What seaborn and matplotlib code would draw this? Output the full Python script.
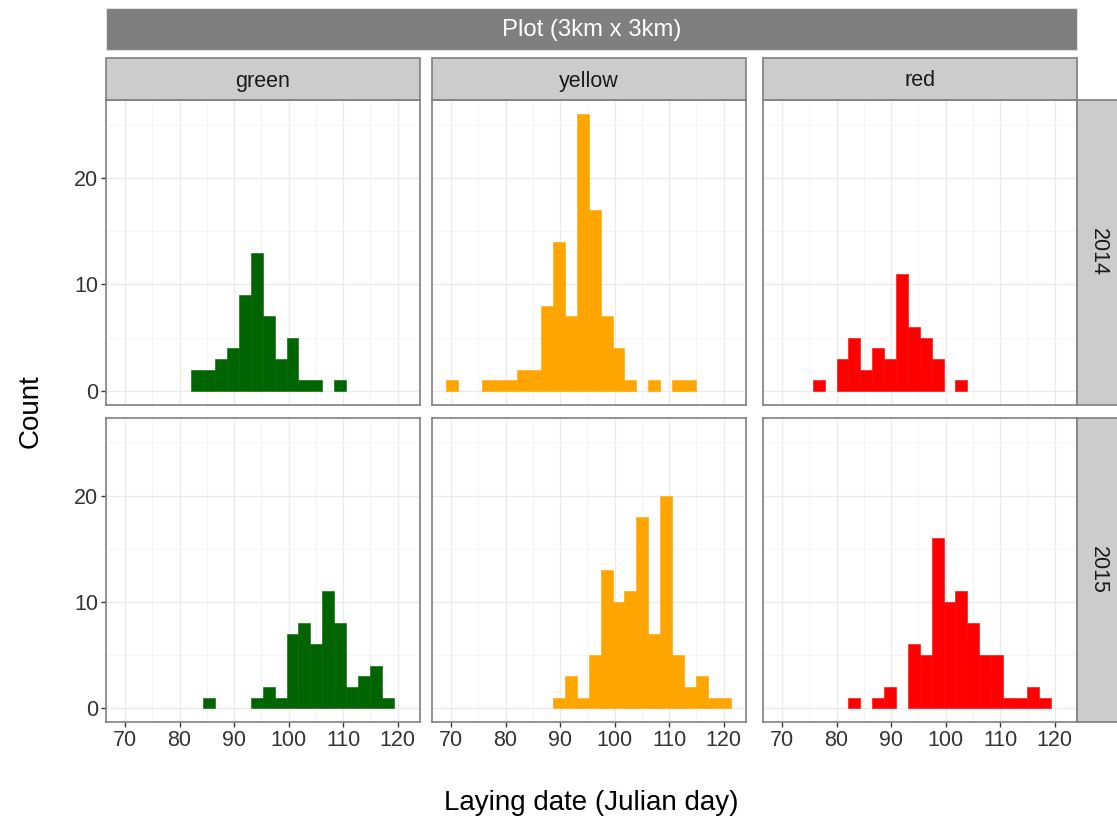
import numpy as np
import pandas as pd
import matplotlib
matplotlib.use("Agg")
import matplotlib.pyplot as plt
from matplotlib.patches import Rectangle
from matplotlib.ticker import MultipleLocator
import seaborn as sns

# histogram counts, one value per 2.18 day bin
bin_edges = np.linspace(69.1, 121.42, 25)
colours = ["green", "yellow", "red"]
years = ["2014", "2015"]

green_2014 = [0, 0, 0, 0, 0, 0, 2, 2, 3, 4, 9, 13, 7, 3, 5, 1, 1, 0, 1, 0, 0, 0, 0, 0]
yellow_2014 = [1, 0, 0, 1, 1, 1, 2, 2, 8, 14, 7, 26, 17, 7, 4, 1, 0, 1, 0, 1, 1, 0, 0, 0]
red_2014 = [0, 0, 0, 1, 0, 3, 5, 2, 4, 3, 11, 6, 5, 3, 0, 1, 0, 0, 0, 0, 0, 0, 0, 0]
green_2015 = [0, 0, 0, 0, 0, 0, 0, 1, 0, 0, 0, 1, 2, 1, 7, 8, 6, 11, 8, 2, 3, 4, 1, 0]
yellow_2015 = [0, 0, 0, 0, 0, 0, 0, 0, 0, 1, 3, 1, 5, 13, 10, 11, 18, 7, 20, 5, 2, 3, 1, 1]
red_2015 = [0, 0, 0, 0, 0, 0, 1, 0, 1, 2, 0, 6, 5, 16, 10, 11, 8, 5, 5, 1, 1, 2, 1, 0]

counts = {
    ("green", "2014"): green_2014, ("yellow", "2014"): yellow_2014, ("red", "2014"): red_2014,
    ("green", "2015"): green_2015, ("yellow", "2015"): yellow_2015, ("red", "2015"): red_2015,
}
fills = {"green": "#006400", "yellow": "#FFA500", "red": "#FF0000"}

centres = (bin_edges[:-1] + bin_edges[1:]) / 2
rows = []
for (col, yr), vals in counts.items():
    for d, n in zip(centres, vals):
        rows.append({"day": d, "count": n, "colour": col, "year": yr})
df = pd.DataFrame(rows)

sns.set_theme(style="white")
plt.rcParams["font.family"] = ["Liberation Sans", "DejaVu Sans"]

W, H = 1117, 823
fig = plt.figure(figsize=(W / 100, H / 100), dpi=100)


def box(x0, y0, x1, y1):
    # pixel box (top-left origin) -> figure fraction rect
    return [x0 / W, 1 - y1 / H, (x1 - x0) / W, (y1 - y0) / H]


col_x = [(106, 420), (432, 746), (763, 1077)]
row_y = [(100, 405), (418, 722)]

for i, yr in enumerate(years):
    for j, col in enumerate(colours):
        ax = fig.add_axes(box(col_x[j][0], row_y[i][0], col_x[j][1], row_y[i][1]))
        sub = df[(df["colour"] == col) & (df["year"] == yr)]
        sns.histplot(data=sub, x="day", weights="count", bins=bin_edges.tolist(), ax=ax,
                     color=fills[col], alpha=1, edgecolor=fills[col], linewidth=0.4)
        # empty bins should not leave an outline on the baseline
        for p in ax.patches:
            if p.get_height() == 0:
                p.set_visible(False)
        ax.set_xlim(66.5, 124.1)
        ax.set_ylim(-1.3, 27.3)
        ax.xaxis.set_major_locator(MultipleLocator(10))
        ax.xaxis.set_minor_locator(MultipleLocator(5))
        ax.yaxis.set_major_locator(MultipleLocator(10))
        ax.yaxis.set_minor_locator(MultipleLocator(5))
        ax.grid(True, which="major", color="#EBEBEB", linewidth=1.0)
        ax.grid(True, which="minor", color="#F3F3F3", linewidth=0.6)
        ax.set_axisbelow(True)
        ax.set_xlabel("")
        ax.set_ylabel("")
        for s in ax.spines.values():
            s.set_color("#7F7F7F")
            s.set_linewidth(1.2)
        ax.tick_params(which="major", length=3.5, width=1.0, color="#333333",
                       labelsize=15.5, labelcolor="#333333", pad=2)
        ax.tick_params(which="minor", length=0)
        ax.tick_params(axis="x", bottom=(i == 1), labelbottom=(i == 1))
        ax.tick_params(axis="y", left=(j == 0), labelleft=(j == 0))

# top nested strip
fig.patches.append(Rectangle((106 / W, 1 - 50 / H), (1077 - 106) / W, 42 / H,
                             transform=fig.transFigure, facecolor="#7F7F7F",
                             edgecolor="#E0E0E0", linewidth=0.8))
fig.text((106 + 1077) / 2 / W, 1 - 30 / H, "Plot (3km x 3km)", color="white",
         fontsize=17.2, ha="center", va="center")

# column strips
for j, col in enumerate(colours):
    x0, x1 = col_x[j]
    fig.patches.append(Rectangle((x0 / W, 1 - 100 / H), (x1 - x0) / W, 42 / H,
                                 transform=fig.transFigure, facecolor="#CCCCCC",
                                 edgecolor="#7F7F7F", linewidth=1.2))
    fig.text((x0 + x1) / 2 / W, 1 - 81 / H, col, color="#1A1A1A",
             fontsize=15.5, ha="center", va="center")

# row strips
for i, yr in enumerate(years):
    y0, y1 = row_y[i]
    fig.patches.append(Rectangle((1077 / W, 1 - y1 / H), 42 / W, (y1 - y0) / H,
                                 transform=fig.transFigure, facecolor="#CCCCCC",
                                 edgecolor="#7F7F7F", linewidth=1.2))
    fig.text(1098 / W, 1 - (y0 + y1) / 2 / H, yr, color="#1A1A1A",
             fontsize=15.5, ha="center", va="center", rotation=-90)

fig.text(31 / W, 1 - 411 / H, "Count", fontsize=20, rotation=90,
         ha="center", va="center", color="black")
fig.text(591 / W, 1 - 803 / H, "Laying date (Julian day)", fontsize=20,
         ha="center", va="center", color="black")

fig.savefig("out.png", dpi=100, facecolor="white")
